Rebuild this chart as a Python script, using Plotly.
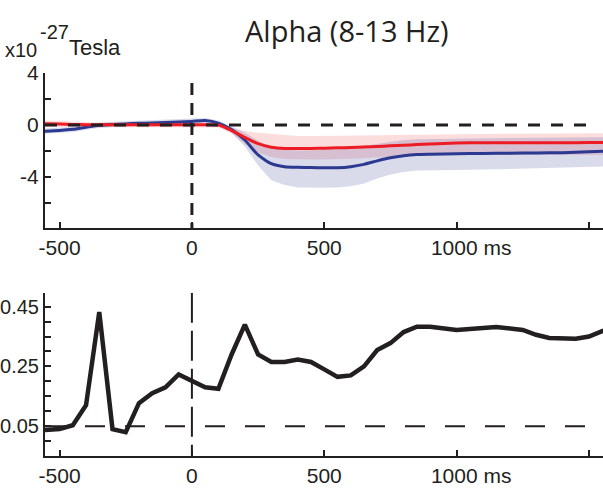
import plotly.graph_objects as go

# ---------------- data ----------------
t_top = [-555, -500, -450, -400, -350, -300, -250, -200, -150, -100, -50, 0, 50, 100,
         150, 200, 250, 300, 350, 400, 450, 500, 550, 600, 650, 700, 750, 800, 850, 900,
         1000, 1100, 1200, 1300, 1400, 1500, 1555]

blue_mean = [-0.47, -0.42, -0.33, -0.17, -0.02, 0.05, 0.09, 0.13, 0.16, 0.19, 0.23, 0.28, 0.35, 0.15,
             -0.35, -1.15, -2.3, -2.97, -3.2, -3.25, -3.27, -3.28, -3.28, -3.2, -3.02, -2.75, -2.52, -2.36, -2.27, -2.24,
             -2.2, -2.18, -2.16, -2.14, -2.12, -2.06, -2.02]
blue_hi = [-0.27, -0.22, -0.13, 0.03, 0.18, 0.25, 0.29, 0.33, 0.36, 0.39, 0.43, 0.48, 0.55, 0.35,
           -0.1, -0.6, -1.2, -1.7, -1.9, -1.95, -1.93, -1.9, -1.85, -1.75, -1.6, -1.4, -1.25, -1.15, -1.1, -1.08,
           -1.05, -1.03, -1.0, -0.98, -0.96, -0.94, -0.93]
blue_lo = [-0.67, -0.62, -0.53, -0.37, -0.22, -0.15, -0.11, -0.07, -0.04, -0.01, 0.03, 0.08, 0.15, -0.05,
           -0.6, -1.65, -3.1, -4.25, -4.6, -4.8, -4.82, -4.82, -4.8, -4.7, -4.5, -4.1, -3.8, -3.6, -3.5, -3.47,
           -3.45, -3.42, -3.38, -3.33, -3.28, -3.22, -3.19]

red_mean = [0.1, 0.08, 0.05, 0.03, 0.02, 0.02, 0.02, 0.02, 0.02, 0.02, 0.02, 0.02, 0.02, 0.0,
            -0.42, -0.95, -1.43, -1.7, -1.8, -1.8, -1.8, -1.78, -1.75, -1.72, -1.68, -1.65, -1.6, -1.55, -1.5, -1.45,
            -1.38, -1.36, -1.36, -1.36, -1.36, -1.35, -1.35]
red_hi = [0.35, 0.3, 0.25, 0.22, 0.2, 0.2, 0.2, 0.2, 0.2, 0.2, 0.2, 0.2, 0.2, 0.18,
          -0.2, -0.45, -0.6, -0.7, -0.8, -0.85, -0.85, -0.85, -0.84, -0.82, -0.8, -0.78, -0.76, -0.74, -0.73, -0.72,
          -0.7, -0.68, -0.67, -0.66, -0.65, -0.64, -0.63]
red_lo = [-0.15, -0.14, -0.15, -0.16, -0.16, -0.16, -0.16, -0.16, -0.16, -0.16, -0.16, -0.16, -0.16, -0.18,
          -0.65, -1.45, -2.1, -2.45, -2.6, -2.65, -2.65, -2.65, -2.63, -2.6, -2.55, -2.5, -2.45, -2.4, -2.36, -2.33,
          -2.3, -2.3, -2.3, -2.3, -2.3, -2.3, -2.3]

t_bot = [-555, -500, -450, -400, -350, -300, -250, -200, -150, -100, -50, 0, 50, 100,
         150, 200, 250, 300, 350, 400, 450, 500, 550, 600, 650, 700, 750, 800, 850, 900,
         1000, 1100, 1150, 1250, 1300, 1350, 1450, 1500, 1555]
p_vals = [0.037, 0.04, 0.053, 0.12, 0.432, 0.04, 0.03, 0.127, 0.16, 0.18, 0.223, 0.20, 0.18, 0.175,
          0.29, 0.39, 0.29, 0.265, 0.265, 0.273, 0.265, 0.24, 0.215, 0.22, 0.25, 0.305, 0.328, 0.365, 0.383, 0.383,
          0.372, 0.379, 0.382, 0.372, 0.356, 0.345, 0.343, 0.35, 0.37]

x_tickvals = [-500, 0, 500, 1000, 1500]
x_ticktext = ["-500", "0", "500", "\u00a0" * 5 + "1000 ms", ""]
top_tickvals = [-6, -4, -2, 0, 2, 4]
top_ticktext = ["", "-4", "", "0", "", "4"]
bot_tickvals = [0.0, 0.05, 0.1, 0.15, 0.2, 0.25, 0.3, 0.35, 0.4, 0.45]
bot_ticktext = ["", "0.05", "", "", "", "0.25", "", "", "", "0.45"]

XR = [-555, 1553]
TOP_YR = [-7.92, 4.0]
BOT_YR = [-0.05, 0.497]

FAM = "Liberation Sans, Arial, sans-serif"
TICKFONT = dict(family=FAM, size=21, color="#231f20")
BOTY_FONT = dict(family=FAM, size=20, color="#231f20")

BLUE = "#2b3990"
RED = "#ed1c24"

fig = go.Figure()

# red band
fig.add_trace(go.Scatter(x=t_top, y=red_hi, mode="lines", line=dict(width=0), hoverinfo="skip",
                         showlegend=False, xaxis="x", yaxis="y"))
fig.add_trace(go.Scatter(x=t_top, y=red_lo, mode="lines", line=dict(width=0), fill="tonexty",
                         fillcolor="rgba(237,28,36,0.15)", hoverinfo="skip", showlegend=False,
                         xaxis="x", yaxis="y"))
# blue band
fig.add_trace(go.Scatter(x=t_top, y=blue_hi, mode="lines", line=dict(width=0), hoverinfo="skip",
                         showlegend=False, xaxis="x", yaxis="y"))
fig.add_trace(go.Scatter(x=t_top, y=blue_lo, mode="lines", line=dict(width=0), fill="tonexty",
                         fillcolor="rgba(43,57,144,0.18)", hoverinfo="skip", showlegend=False,
                         xaxis="x", yaxis="y"))
# mean lines
fig.add_trace(go.Scatter(x=t_top, y=blue_mean, mode="lines", line=dict(color=BLUE, width=3, shape="spline",
                         smoothing=0.6), showlegend=False, xaxis="x", yaxis="y"))
fig.add_trace(go.Scatter(x=t_top, y=red_mean, mode="lines", line=dict(color=RED, width=3, shape="spline",
                         smoothing=0.6), showlegend=False, xaxis="x", yaxis="y"))

# reference dashed lines, top panel
fig.add_trace(go.Scatter(x=[XR[0], 1500], y=[0, 0], mode="lines",
                         line=dict(color="#231f20", width=3, dash="12px,11px"), showlegend=False,
                         hoverinfo="skip", xaxis="x", yaxis="y"))
fig.add_trace(go.Scatter(x=[0, 0], y=[3.23, TOP_YR[0]], mode="lines",
                         line=dict(color="#231f20", width=3, dash="12px,8px"), showlegend=False,
                         hoverinfo="skip", xaxis="x", yaxis="y"))

# bottom panel
fig.add_trace(go.Scatter(x=t_bot, y=p_vals, mode="lines", line=dict(color="#231f20", width=4.5),
                         showlegend=False, xaxis="x2", yaxis="y2"))
fig.add_trace(go.Scatter(x=[XR[0], 1490], y=[0.05, 0.05], mode="lines",
                         line=dict(color="#231f20", width=2, dash="20px,20px"), showlegend=False,
                         hoverinfo="skip", xaxis="x2", yaxis="y2"))
fig.add_trace(go.Scatter(x=[0, 0], y=[BOT_YR[1], BOT_YR[0]], mode="lines",
                         line=dict(color="#231f20", width=2, dash="30px,8px"), showlegend=False,
                         hoverinfo="skip", xaxis="x2", yaxis="y2"))

axis_common = dict(showgrid=False, zeroline=False, showline=True, linecolor="#231f20", linewidth=2,
                   ticks="inside", ticklen=6, tickwidth=1.5, tickcolor="#231f20",
                   automargin=False)

fig.update_layout(
    width=603, height=488,
    margin=dict(l=45, r=0, t=73, b=32),
    paper_bgcolor="white", plot_bgcolor="white",
    showlegend=False,
    xaxis=dict(domain=[0, 1], range=XR, anchor="y", tickvals=x_tickvals, ticktext=x_ticktext,
               tickfont=TICKFONT, **axis_common),
    yaxis=dict(domain=[0.595, 1], range=TOP_YR, anchor="x", tickvals=top_tickvals, ticktext=top_ticktext,
               tickfont=TICKFONT, **axis_common),
    xaxis2=dict(domain=[0, 1], range=XR, anchor="y2", tickvals=x_tickvals, ticktext=x_ticktext,
                tickfont=TICKFONT, **axis_common),
    yaxis2=dict(domain=[0, 0.4265], range=BOT_YR, anchor="x2", tickvals=bot_tickvals, ticktext=bot_ticktext,
                tickfont=BOTY_FONT, **axis_common),
    annotations=[
        dict(text="Alpha (8-13 Hz)", xref="paper", yref="paper", x=0.541, y=(456 - 30) / 383,
             xanchor="center", yanchor="middle", showarrow=False,
             font=dict(family="Open Sans, Noto Sans, sans-serif", size=29, color="#231f20")),
        dict(text="x10", xref="paper", yref="paper", x=(3 - 45) / 558, y=(456 - 50) / 383,
             xanchor="left", yanchor="middle", showarrow=False,
             font=dict(family=FAM, size=20, color="#231f20")),
        dict(text="-27", xref="paper", yref="paper", x=(38 - 45) / 558, y=(456 - 32) / 383,
             xanchor="left", yanchor="middle", showarrow=False,
             font=dict(family=FAM, size=20, color="#231f20")),
        dict(text="Tesla", xref="paper", yref="paper", x=(67 - 45) / 558, y=(456 - 47) / 383,
             xanchor="left", yanchor="middle", showarrow=False,
             font=dict(family=FAM, size=22, color="#231f20")),
    ],
)

fig.write_html("out.html", config={"displayModeBar": False},
               post_script="document.body.style.margin='0';document.body.style.overflow='hidden';")
